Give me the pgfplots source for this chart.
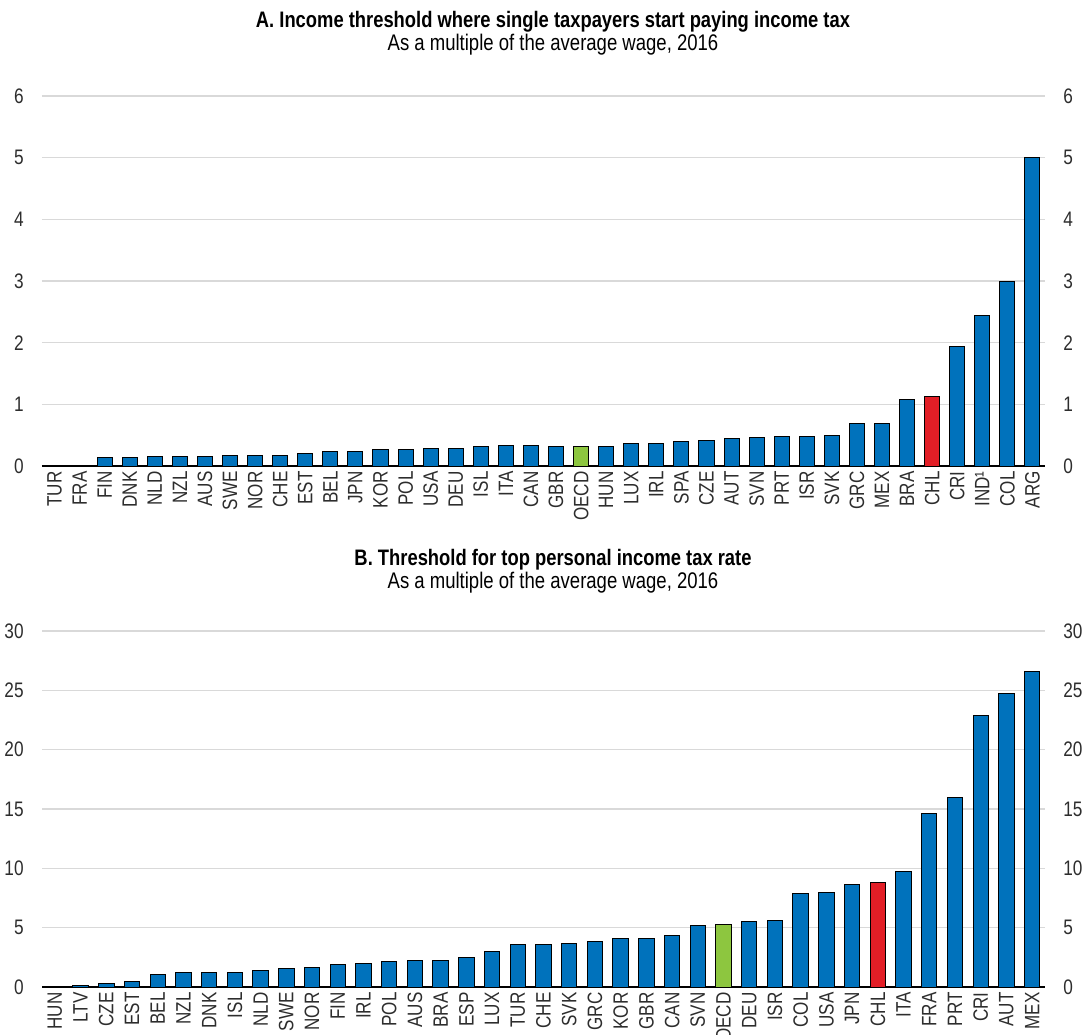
\documentclass[border=0pt]{standalone}
\usepackage{fontspec}
\setmainfont{Liberation Sans}[FakeStretch=0.82]
\usepackage{pgfplots}
\pgfplotsset{compat=1.18}
\definecolor{oblue}{RGB}{0,114,188}
\definecolor{ored}{RGB}{226,30,38}
\definecolor{ogreen}{RGB}{141,198,63}
\definecolor{ggrid}{RGB}{217,217,217}
\definecolor{tgray}{RGB}{45,45,45}
\pgfplotsset{
  oecdbase/.style={
    scale only axis, width=501.5pt,
    /pgf/number format/assume math mode=true,
    ymin=0,
    separate axis lines,
    tick label style={font=\fontsize{10.5}{10.5}\selectfont, text=tgray},
    grid style={ggrid, line width=0.7pt},
    ytick style={draw=none},
    yticklabel style={inner sep=0pt},
    yticklabel shift=9pt,
  },
  barbase/.style={
    oecdbase,
    axis x line*=bottom, axis y line*=left,
    y axis line style={draw=none},
    x axis line style={black, line width=0.6pt, -},
    ybar, bar shift=0pt, bar width=0.6,
    ymajorgrids,
    xtick style={draw=none},
    minor x tick style={black, line width=0.5pt},
    minor tick length=3pt, tick align=inside,
    xticklabel style={rotate=90, anchor=east, font=\fontsize{10.4}{10.4}\selectfont, inner sep=0pt, text=tgray},
    xticklabel shift=2.5pt,
    every axis plot/.append style={draw=black, line width=0.5pt},
  },
  rightbase/.style={
    oecdbase,
    axis x line=none, axis y line*=right,
    y axis line style={draw=none},
  },
}
\begin{document}
\begin{tikzpicture}
\path[use as bounding box] (0,0) rectangle (542.5pt,-517pt);
% Panel A
\node[font=\bfseries\fontsize{11.2}{11.2}\selectfont] at (276.5pt,-11pt) {A. Income threshold where single taxpayers start paying income tax};
\node[font=\fontsize{11.3}{11.3}\selectfont] at (276.5pt,-22.5pt) {As a multiple of the average wage, 2016};
\begin{axis}[barbase, at={(21pt,-233pt)}, anchor=south west, height=185pt,
  xmin=-0.5, xmax=39.5, ymax=6, ytick={0,1,...,6},
  xtick={0,1,...,39}, minor xtick={-0.5,0.5,...,39.5},
  xticklabels={TUR,FRA,FIN,DNK,NLD,NZL,AUS,SWE,NOR,CHE,EST,BEL,JPN,KOR,POL,USA,DEU,ISL,ITA,CAN,GBR,OECD,HUN,LUX,IRL,SPA,CZE,AUT,SVN,PRT,ISR,SVK,GRC,MEX,BRA,CHL,CRI,IND¹,COL,ARG}]
\addplot[fill=oblue] coordinates {
(0,0.01)(1,0.01)(2,0.14)(3,0.13)(4,0.15)(5,0.15)(6,0.15)(7,0.17)(8,0.17)(9,0.17)
(10,0.20)(11,0.23)(12,0.23)(13,0.27)(14,0.27)(15,0.29)(16,0.29)(17,0.31)(18,0.33)(19,0.33)
(20,0.32)(21,0.32)(22,0.32)(23,0.37)(24,0.37)(25,0.39)(26,0.42)(27,0.44)(28,0.46)(29,0.48)
(30,0.48)(31,0.50)(32,0.69)(33,0.69)(34,1.08)(35,1.13)(36,1.94)(37,2.44)(38,3.00)(39,5.00)};
\addplot[fill=ogreen] coordinates {(21,0.32)};
\addplot[fill=ored] coordinates {(35,1.13)};
\end{axis}
\begin{axis}[rightbase, at={(21pt,-233pt)}, anchor=south west, height=185pt,
  xmin=-0.5, xmax=39.5, ymax=6, ytick={0,1,...,6}]
\end{axis}
% Panel B
\node[font=\bfseries\fontsize{11.2}{11.2}\selectfont] at (276.5pt,-280pt) {B. Threshold for top personal income tax rate};
\node[font=\fontsize{11.3}{11.3}\selectfont] at (276.5pt,-291.5pt) {As a multiple of the average wage, 2016};
\begin{axis}[barbase, at={(21pt,-493.5pt)}, anchor=south west, height=178pt,
  xmin=-0.5, xmax=38.5, ymax=30, ytick={0,5,...,30},
  xtick={0,1,...,38}, minor xtick={-0.5,0.5,...,38.5},
  xticklabels={HUN,LTV,CZE,EST,BEL,NZL,DNK,ISL,NLD,SWE,NOR,FIN,IRL,POL,AUS,BRA,ESP,LUX,TUR,CHE,SVK,GRC,KOR,GBR,CAN,SVN,OECD,DEU,ISR,COL,USA,JPN,CHL,ITA,FRA,PRT,CRI,AUT,MEX}]
\addplot[fill=oblue] coordinates {
(0,0)(1,0.11)(2,0.31)(3,0.43)(4,1.02)(5,1.25)(6,1.25)(7,1.25)(8,1.36)(9,1.56)
(10,1.68)(11,1.88)(12,1.96)(13,2.16)(14,2.27)(15,2.27)(16,2.47)(17,3.01)(18,3.58)(19,3.58)
(20,3.66)(21,3.85)(22,4.05)(23,4.05)(24,4.36)(25,5.17)(26,5.25)(27,5.56)(28,5.64)(29,7.85)
(30,7.93)(31,8.66)(32,8.85)(33,9.75)(34,14.66)(35,15.98)(36,22.9)(37,24.7)(38,26.6)};
\addplot[fill=ogreen] coordinates {(26,5.25)};
\addplot[fill=ored] coordinates {(32,8.85)};
\end{axis}
\begin{axis}[rightbase, at={(21pt,-493.5pt)}, anchor=south west, height=178pt,
  xmin=-0.5, xmax=38.5, ymax=30, ytick={0,5,...,30}]
\end{axis}
\end{tikzpicture}
\end{document}
